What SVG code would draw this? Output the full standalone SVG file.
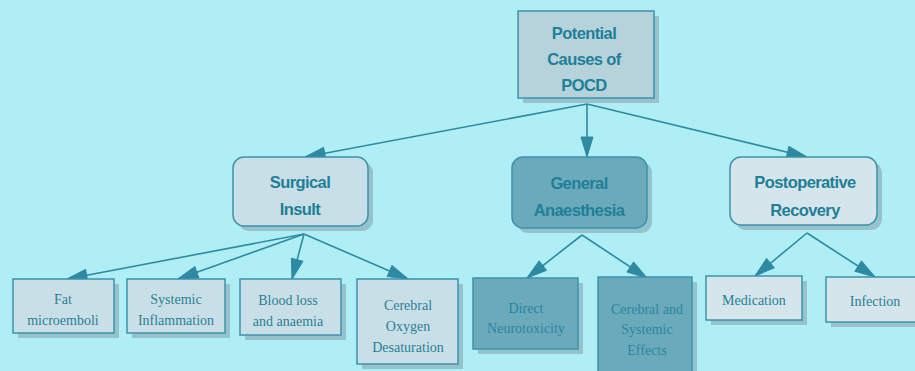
<svg xmlns="http://www.w3.org/2000/svg" width="915" height="371" viewBox="0 0 915 371">
<defs>
<marker id="ah" markerUnits="userSpaceOnUse" markerWidth="24" markerHeight="14" refX="21" refY="7" orient="auto">
<path d="M1,1 L21,7 L1,13 Z" fill="#2e8aa2" stroke="#2e8aa2" stroke-width="1" stroke-linejoin="round"/>
</marker>
</defs>
<style>
.bg{fill:#b0eef5}
.sh{fill:#96c2cc}
.box{fill:#c9dfe7;stroke:#3d93aa;stroke-width:1.5}
.top{fill:#b6d3dc;stroke:#3d93aa;stroke-width:1.5}
.dark{fill:#6aaabb;stroke:#3d93aa;stroke-width:1.5}
.pale{fill:#d4e5ec;stroke:#3d93aa;stroke-width:1.5}
.h{font-weight:bold;font-size:16.5px;fill:#1f7f98;text-anchor:middle;letter-spacing:-0.6px}
.l{font-size:14px;fill:#2a7f95;text-anchor:middle}
.ld{font-size:14px;fill:#2a86a0;text-anchor:middle}
.c{stroke:#2e8aa2;stroke-width:1.6;fill:none;marker-end:url(#ah)}
</style>
<rect class="bg" x="0" y="0" width="915" height="371"/>
<g id="connectors">
<line class="c" x1="587" y1="104" x2="305" y2="157"/>
<line class="c" x1="587" y1="104" x2="587" y2="157"/>
<line class="c" x1="587" y1="104" x2="807" y2="157"/>
<line class="c" x1="304" y1="234" x2="67" y2="279"/>
<line class="c" x1="304" y1="234" x2="178" y2="279"/>
<line class="c" x1="304" y1="234" x2="292" y2="279"/>
<line class="c" x1="304" y1="234" x2="408" y2="279"/>
<line class="c" x1="582" y1="235" x2="527" y2="278"/>
<line class="c" x1="582" y1="235" x2="647" y2="278"/>
<line class="c" x1="807" y1="233" x2="755" y2="276"/>
<line class="c" x1="807" y1="233" x2="875" y2="277"/>
</g>
<g font-family="Liberation Sans, Arial, sans-serif">
<g id="root">
<rect class="sh" x="523" y="16" width="136" height="87"/>
<rect class="top" x="518" y="11" width="136" height="87"/>
<text class="h" x="584" y="39">Potential</text>
<text class="h" x="584" y="65">Causes of</text>
<text class="h" x="584" y="91">POCD</text>
</g>
<g id="surgical">
<rect class="sh" x="238" y="162" width="135" height="69" rx="11"/>
<rect class="box" x="233" y="157" width="135" height="69" rx="11"/>
<text class="h" x="300" y="188">Surgical</text>
<text class="h" x="300" y="215">Insult</text>
</g>
<g id="general">
<rect class="sh" x="517" y="162" width="135" height="71" rx="11"/>
<rect class="dark" x="512" y="157" width="135" height="71" rx="11"/>
<text class="h" x="579" y="189">General</text>
<text class="h" x="579" y="216">Anaesthesia</text>
</g>
<g id="postop">
<rect class="sh" x="735" y="162" width="147" height="68" rx="11"/>
<rect class="pale" x="730" y="157" width="147" height="68" rx="11"/>
<text class="h" x="805" y="188">Postoperative</text>
<text class="h" x="805" y="216">Recovery</text>
</g>
</g>
<g font-family="Liberation Serif, Times New Roman, serif">
<g id="fat">
<rect class="sh" x="18" y="284" width="101" height="54"/>
<rect class="box" x="13" y="279" width="101" height="54"/>
<text class="l" x="63" y="304">Fat</text>
<text class="l" x="63" y="325">microemboli</text>
</g>
<g id="systemic">
<rect class="sh" x="132" y="284" width="98" height="54"/>
<rect class="box" x="127" y="279" width="98" height="54"/>
<text class="l" x="176" y="304">Systemic</text>
<text class="l" x="176" y="325">Inflammation</text>
</g>
<g id="blood">
<rect class="sh" x="245" y="284" width="101" height="56"/>
<rect class="box" x="240" y="279" width="101" height="56"/>
<text class="l" x="288" y="305">Blood loss</text>
<text class="l" x="288" y="326">and anaemia</text>
</g>
<g id="cerebral-oxygen">
<rect class="sh" x="362" y="284" width="101" height="85"/>
<rect class="box" x="357" y="279" width="101" height="85"/>
<text class="l" x="408" y="310">Cerebral</text>
<text class="l" x="408" y="331">Oxygen</text>
<text class="l" x="408" y="352">Desaturation</text>
</g>
<g id="direct">
<rect class="sh" x="478" y="283" width="105" height="71"/>
<rect class="dark" x="473" y="278" width="105" height="71"/>
<text class="ld" x="526" y="313">Direct</text>
<text class="ld" x="526" y="333">Neurotoxicity</text>
</g>
<g id="cerebral-systemic">
<rect class="sh" x="603" y="282" width="94" height="95"/>
<rect class="dark" x="598" y="277" width="94" height="100"/>
<text class="ld" x="647" y="314">Cerebral and</text>
<text class="ld" x="647" y="334">Systemic</text>
<text class="ld" x="647" y="355">Effects</text>
</g>
<g id="medication">
<rect class="sh" x="711" y="281" width="96" height="44"/>
<rect class="pale" x="706" y="276" width="96" height="44"/>
<text class="l" x="754" y="305">Medication</text>
</g>
<g id="infection">
<rect class="sh" x="831" y="282" width="96" height="45"/>
<rect class="pale" x="826" y="277" width="96" height="45"/>
<text class="l" x="875" y="306">Infection</text>
</g>
</g>
</svg>
